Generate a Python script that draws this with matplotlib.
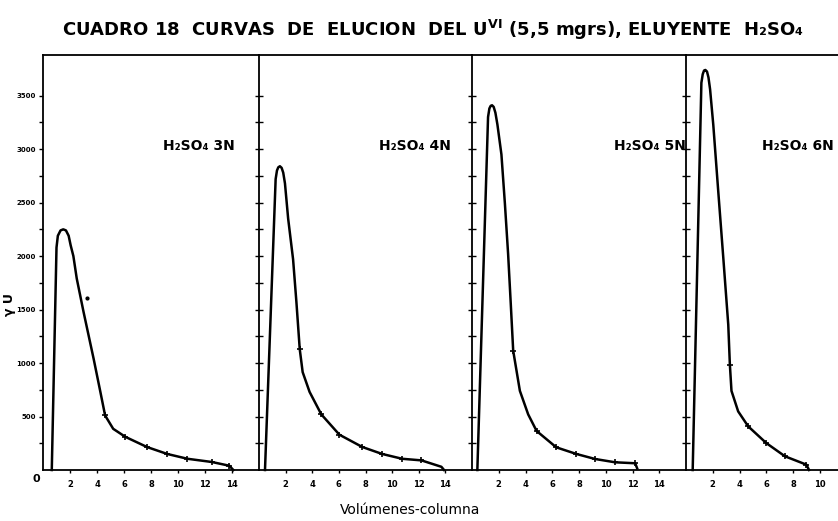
import matplotlib.pyplot as plt

# eluent concentration of each panel
panels = ["H₂SO₄ 3N", "H₂SO₄ 4N", "H₂SO₄ 5N", "H₂SO₄ 6N"]

# volumes-columna / gamma U
x_3n = [0.65, 1.0, 1.1, 1.3, 1.5, 1.7, 1.9, 2.05, 2.25, 2.5, 3.0, 3.75, 4.25, 4.6,
        5.2, 6.1, 7.7, 9.2, 10.7, 12.5, 13.8, 14.1]
y_3n = [0, 2080, 2190, 2240, 2250, 2240, 2190, 2100, 2000, 1790, 1480, 1040, 730, 510,
        385, 310, 215, 150, 105, 75, 40, 0]
m_3n = [13, 15, 16, 17, 18, 19, 20]

x_4n = [0.45, 1.25, 1.35, 1.45, 1.57, 1.7, 1.82, 1.95, 2.19, 2.56, 2.81, 3.06, 3.28,
        3.8, 4.68, 6.04, 7.76, 9.25, 10.75, 12.2, 13.7, 13.9]
y_4n = [0, 2720, 2800, 2830, 2840, 2825, 2780, 2680, 2350, 1970, 1570, 1130, 915,
        730, 520, 330, 215, 150, 105, 90, 30, 0]
m_4n = [11, 14, 15, 16, 17, 18, 19]

x_5n = [0.4, 1.2, 1.3, 1.4, 1.5, 1.62, 1.75, 1.9, 2.2, 2.46, 2.7, 2.9, 3.08, 3.58,
        4.2, 4.83, 6.3, 7.8, 9.2, 10.7, 12.2, 12.35]
y_5n = [0, 3300, 3380, 3405, 3410, 3395, 3340, 3230, 2950, 2490, 2020, 1550, 1115,
        740, 520, 365, 212, 150, 103, 72, 63, 15]
m_5n = [12, 15, 16, 17, 18, 19, 20]

x_6n = [0.5, 1.15, 1.25, 1.35, 1.45, 1.57, 1.68, 1.8, 2.04, 2.41, 2.79, 3.16, 3.28,
        3.4, 3.9, 4.65, 6.0, 7.4, 9.0, 9.2]
y_6n = [0, 3620, 3700, 3735, 3740, 3725, 3670, 3560, 3227, 2607, 1981, 1358, 985,
        740, 548, 408, 252, 128, 50, 0]
m_6n = [12, 15, 16, 17, 18]

curves = [(x_3n, y_3n, m_3n), (x_4n, y_4n, m_4n), (x_5n, y_5n, m_5n), (x_6n, y_6n, m_6n)]

# stray measured point off the 3N curve
extra_x = [3.26]
extra_y = [1610]

xticks = [2, 4, 6, 8, 10, 12, 14]
xticks_last = [2, 4, 6, 8, 10]
yticks = [500, 1000, 1500, 2000, 2500, 3000, 3500]
yticklabels = ["500", "1000", "1500", "2000", "2500", "3000", "3500"]
label_x = [8.9, 9.0, 10.6, 5.7]

W, H = 838, 521
fig = plt.figure(figsize=(W / 100, H / 100), dpi=100)
plt.rcParams['font.family'] = ['DejaVu Sans']

lefts = [43, 259, 472, 686]
rights = [259, 472, 686, 900]
ybot, ytop = 470, 55

for i, (xs, ys, marks) in enumerate(curves):
    l, r = lefts[i], rights[i]
    ax = fig.add_axes([l / W, (H - ybot) / H, (r - l) / W, (ybot - ytop) / H])
    ax.set_xlim(0, 16)
    ax.set_ylim(0, 3880)
    ax.plot(xs, ys, color='black', lw=1.8, solid_joinstyle='round', clip_on=False)
    ax.plot([xs[k] for k in marks], [ys[k] for k in marks], ls='none',
            marker='+', ms=4, mew=1.2, color='black')
    if i == 0:
        ax.plot(extra_x, extra_y, ls='none', marker='o', ms=2, color='black')
    ax.text(label_x[i], 3030, panels[i], fontsize=10, fontweight='bold',
            va='center', ha='left', clip_on=False)

    for s in ax.spines.values():
        s.set_linewidth(1.3)
    ax.spines['right'].set_visible(False)

    ticks = xticks_last if i == 3 else xticks
    ax.set_xticks(ticks)
    ax.set_xticklabels([str(t) for t in ticks], fontsize=6, fontweight='bold')
    ax.tick_params(axis='x', direction='out', length=2, width=1, pad=5)

    ax.set_yticks(yticks)
    ax.set_yticks([250 + 500 * k for k in range(7)], minor=True)
    if i == 0:
        ax.set_yticklabels(yticklabels, fontsize=5, fontweight='bold')
        ax.tick_params(axis='y', which='both', direction='out', length=3, width=1, pad=2)
        ax.text(-0.5, -80, "0", fontsize=8, fontweight='bold', ha='center', va='center',
                clip_on=False)
    else:
        ax.set_yticklabels([])
        ax.tick_params(axis='y', which='both', direction='inout', length=6, width=1)

fig.text(433 / W, 1 - 30 / H,
         r"CUADRO 18  CURVAS  DE  ELUCION  DEL U$^{\mathbf{VI}}$ (5,5 mgrs), ELUYENTE  H₂SO₄",
         fontsize=13, fontweight='bold', ha='center', va='center')
fig.text(9 / W, 1 - 305 / H, "γ U", rotation=90, fontsize=9, fontweight='bold',
         ha='center', va='center')
fig.text(410 / W, 1 - 510 / H, "Volúmenes-columna", fontsize=10,
         ha='center', va='center')

fig.savefig("out.png", dpi=100)
